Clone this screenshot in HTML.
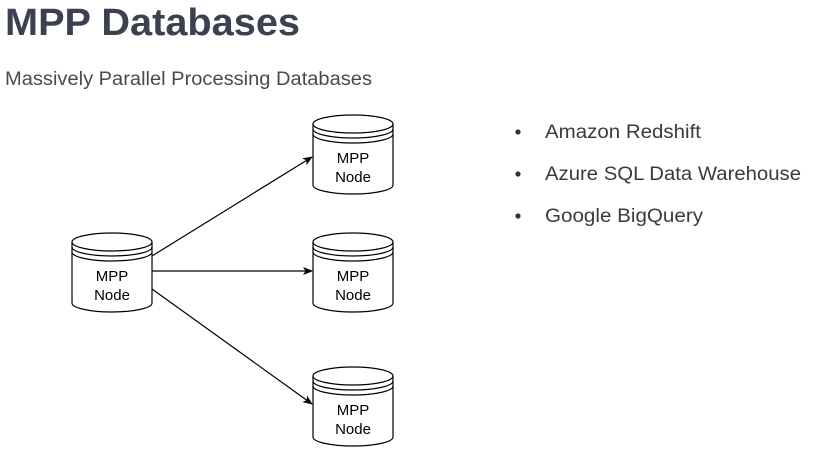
<!DOCTYPE html>
<html><head><style>html,body{margin:0;padding:0;background:#fff;}</style></head>
<body>
<svg width="836" height="461" xmlns="http://www.w3.org/2000/svg" style="display:block">
<defs>
<marker id="a" markerWidth="10" markerHeight="8" refX="9" refY="4" orient="auto" markerUnits="userSpaceOnUse">
<path d="M0,0 L10,4 L0,8 L2.5,4 Z" fill="#000"/>
</marker>
<g id="cyl">
<path d="M0,9 A40,9 0 0 1 80,9 L80,70 A40,9 0 0 1 0,70 Z" fill="#fff" stroke="#000" stroke-width="1.2"/>
<path d="M0,9 A40,9 0 0 0 80,9 M0,14 A40,9 0 0 0 80,14 M0,19 A40,9 0 0 0 80,19" fill="none" stroke="#000" stroke-width="1.2"/>
<text x="40" y="48" font-family="Liberation Sans, sans-serif" font-size="15" text-anchor="middle">MPP</text>
<text x="40" y="67" font-family="Liberation Sans, sans-serif" font-size="15" text-anchor="middle">Node</text>
</g>
</defs>
<text x="5" y="35" font-family="Liberation Sans, sans-serif" font-weight="bold" font-size="38" fill="#3b4150" textLength="295" lengthAdjust="spacingAndGlyphs">MPP Databases</text>
<text x="5" y="85" font-family="Liberation Sans, sans-serif" font-size="19" fill="#4a4a4a" textLength="367" lengthAdjust="spacingAndGlyphs">Massively Parallel Processing Databases</text>
<g font-family="Liberation Sans, sans-serif" font-size="19" fill="#3a3a3a">
<circle cx="518" cy="132" r="2.6" fill="#333"/>
<text x="545" y="138" textLength="156" lengthAdjust="spacingAndGlyphs">Amazon Redshift</text>
<circle cx="518" cy="174" r="2.6" fill="#333"/>
<text x="545" y="180" textLength="256" lengthAdjust="spacingAndGlyphs">Azure SQL Data Warehouse</text>
<circle cx="518" cy="216" r="2.6" fill="#333"/>
<text x="545" y="222" textLength="158" lengthAdjust="spacingAndGlyphs">Google BigQuery</text>
</g>
<g stroke="#000" stroke-width="1.2" fill="none">
<line x1="152" y1="256" x2="312" y2="157" marker-end="url(#a)"/>
<line x1="152" y1="271" x2="312" y2="271" marker-end="url(#a)"/>
<line x1="152" y1="289" x2="312" y2="404" marker-end="url(#a)"/>
</g>
<use href="#cyl" x="72" y="233"/>
<use href="#cyl" x="313" y="115"/>
<use href="#cyl" x="313" y="233"/>
<use href="#cyl" x="313" y="367"/>
</svg>
</body></html>
